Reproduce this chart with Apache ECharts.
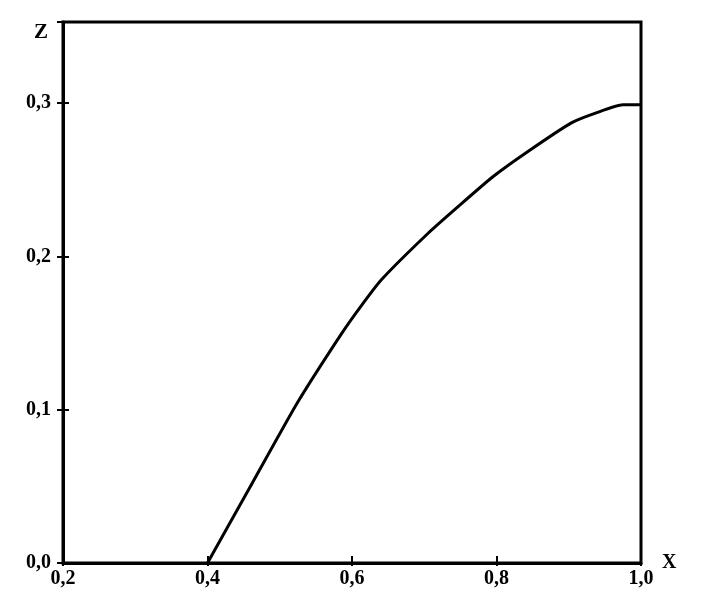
<!DOCTYPE html>
<html>
<head>
<meta charset="utf-8">
<script src="https://cdn.jsdelivr.net/npm/echarts@6/dist/echarts.min.js"></script>
<style>html,body{margin:0;padding:0;background:#fff}#c{width:709px;height:614px}</style>
</head>
<body>
<div id="c"></div>
<script>
var xValues = [0.4, 0.463, 0.525, 0.586, 0.613, 0.641, 0.705, 0.748, 0.795, 0.842, 0.903, 0.937, 0.975, 1.0];
var zValues = [0, 0.053, 0.105, 0.150, 0.168, 0.185, 0.215, 0.233, 0.252, 0.268, 0.287, 0.2935, 0.299, 0.299];
var xName = 'X';
var yName = 'Z';

var pts = xValues.map(function (x, i) { return [x, zValues[i]]; });
var fmt = function (v) { return v.toFixed(1).replace('.', ','); };
var font = { fontFamily: 'Liberation Serif', fontWeight: 'bold', fontSize: 20, color: '#000' };

var chart = echarts.init(document.getElementById('c'));
chart.setOption({
  animation: false,
  backgroundColor: '#fff',
  grid: { left: 63, right: 68, top: 22, bottom: 51, show: true, borderColor: '#000', borderWidth: 3 },
  xAxis: [
    { type: 'value', min: 0.2, max: 1.0, interval: 0.2,
      name: xName, nameLocation: 'end', nameGap: 21,
      nameTextStyle: { fontFamily: 'Liberation Serif', fontWeight: 'bold', fontSize: 20, color: '#000', verticalAlign: 'middle', padding: [6, 0, 0, 0] },
      axisLine: { lineStyle: { color: '#000', width: 3 } },
      axisTick: { inside: true, length: 7, lineStyle: { color: '#000', width: 2 } },
      axisLabel: Object.assign({ formatter: fmt, margin: 6 }, font),
      splitLine: { show: false } },
    { type: 'value', min: 0.2, max: 1.0, interval: 0.2, position: 'bottom',
      axisLine: { show: false },
      axisTick: { inside: false, length: 3, lineStyle: { color: '#000', width: 2 } },
      axisLabel: { show: false }, splitLine: { show: false } }
  ],
  yAxis: [
    { type: 'value', min: 0, max: 0.353, interval: 0.1,
      name: yName, nameLocation: 'end', nameGap: 0,
      nameTextStyle: { fontFamily: 'Liberation Serif', fontWeight: 'bold', fontSize: 21, color: '#000', align: 'right', verticalAlign: 'top', padding: [0, 15, 0, 0] },
      axisLine: { lineStyle: { color: '#000', width: 3 } },
      axisTick: { inside: false, length: 6, lineStyle: { color: '#000', width: 2 } },
      axisLabel: Object.assign({ formatter: function (v) { return v > 0.35 ? '' : fmt(v); }, margin: 12 }, font),
      splitLine: { show: false } },
    { type: 'value', min: 0, max: 0.353, interval: 0.1, position: 'left',
      axisLine: { show: false },
      axisTick: { inside: true, length: 6, lineStyle: { color: '#000', width: 2 } },
      axisLabel: { show: false }, splitLine: { show: false } }
  ],
  series: [{
    type: 'line', data: pts, smooth: 0.2, showSymbol: false,
    lineStyle: { color: '#000', width: 3 }
  }]
});
</script>
</body>
</html>
